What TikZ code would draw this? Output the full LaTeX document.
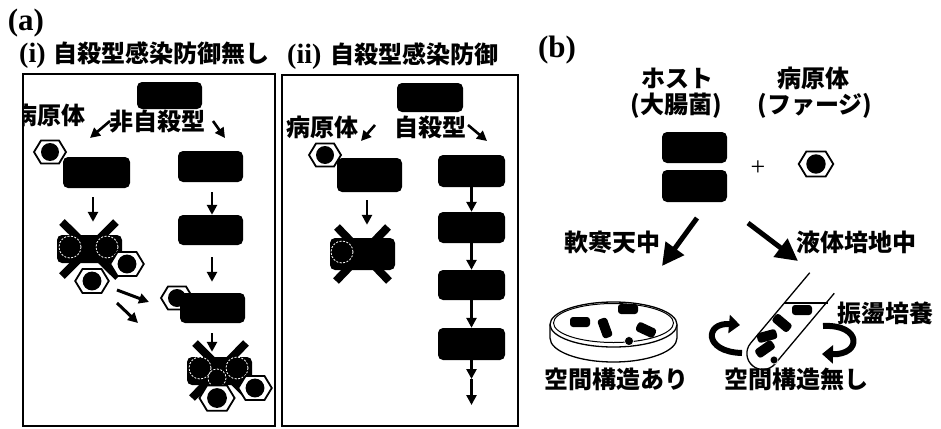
\documentclass[tikz,border=0pt]{standalone}
\usepackage{fontspec}
\setmainfont{Liberation Serif}
\newfontfamily\jp{Noto Sans CJK JP}
\usetikzlibrary{arrows.meta,calc}

\begin{document}
\begin{tikzpicture}[x=1pt,y=-1pt,
  cell/.style={fill=black, rounded corners=5pt, inner sep=0, minimum width=65pt, minimum height=30pt},
  jlabel/.style={font=\jp\bfseries\fontsize{24}{26}\selectfont, inner sep=0},
  tag/.style={font=\bfseries\fontsize{31}{31}\selectfont, inner sep=0},
  panel/.style={draw, line width=2pt},
  arr/.style={line width=2.6pt, -{Triangle[length=10pt,width=10pt]}},
  bigarr/.style={line width=5pt, -{Triangle[length=22pt,width=22pt]}},
  rot/.style={line width=6pt, -{Triangle[length=11pt,width=18pt]}},
  xbar/.style={line width=8pt},
  ghost/.style={draw=white, line width=0.8pt, dash pattern=on 2pt off 1.5pt},
  germ/.style={fill=black, rounded corners=3pt, inner sep=0, minimum width=20pt, minimum height=10pt},
  phage/.pic={
    \draw[line width=1.8pt, fill=white] (-16,0)--(-9,-11.5)--(9,-11.5)--(16,0)--(9,11.5)--(-9,11.5)--cycle;
    \fill (0,0) circle (9);
  }
]
\useasboundingbox (0,0) rectangle (941,428);

% ---------------- (a) ----------------
\node[tag] (la) at (26,23) {(a)};
\node[anchor=west, inner sep=0] (ti) at (19,55)
  {{\fontsize{28}{28}\selectfont\bfseries (i)}\hspace{8pt}{\jp\bfseries\fontsize{24}{26}\selectfont 自殺型感染防御無し}};
\node[anchor=west, inner sep=0] (tii) at (287,56)
  {{\fontsize{28}{28}\selectfont\bfseries (ii)}\hspace{9pt}{\jp\bfseries\fontsize{24}{26}\selectfont 自殺型感染防御}};

\draw[panel] (23,74) rectangle (275,426);
\draw[panel] (282,75) rectangle (518,426);

% panel (i): no suicidal defence
\node[cell, minimum height=27pt] (T1) at (169.5,95.5) {};
\begin{scope}
  \clip (23,74) rectangle (275,426);
  \node[jlabel] (pa1) at (49,115) {病原体};
\end{scope}
\node[jlabel] (ns) at (157,122) {非自殺型};
\coordinate (t1a) at (110,121); \coordinate (t1b) at (90,138);
\coordinate (t1c) at (213,121); \coordinate (t1d) at (225,138);
\draw[arr] (t1a) -- (t1b);
\draw[arr] (t1c) -- (t1d);

% left column: infected host dies and releases phages
\node[cell, minimum width=67pt, minimum height=31pt] (L1) at (96.5,172.5) {};
\pic at (50,152) {phage};
\node[cell, minimum height=28pt] (D1) at (89.5,249) {};
\draw[xbar] (62,222) -- (118,277);
\draw[xbar] (116,222) -- (62,276);
\draw[ghost] (70,247) circle (11);
\draw[ghost] (107,247) circle (11);
\pic[scale=1.05] at (127,264) {phage};
\pic[scale=1.05] at (92,281) {phage};
\draw[arr] ([xshift=-3.5pt,yshift=-9pt]L1.south) -- ([xshift=3.5pt,yshift=13pt]D1.north);
\coordinate (b1s) at (117,290); \coordinate (b1e) at (149,302);
\coordinate (b2s) at (117,303); \coordinate (b2e) at (138,323);
\draw[arr, line width=3pt] (b1s) -- (b1e);
\draw[arr, line width=3pt] (b2s) -- (b2e);

% right column: neighbours grow, then get infected too
\node[cell, minimum height=31pt] (R1) at (210.5,166.5) {};
\node[cell] (R2) at (210.5,230) {};
\pic at (177,298) {phage};
\node[cell] (R3) at (212.5,308) {};
\node[cell, minimum height=28pt] (D2) at (219.5,371) {};
\draw[xbar] (195,343) -- (250,398);
\draw[xbar] (246,343) -- (192,398);
\draw[ghost] (200,368) circle (11);
\draw[ghost] (237,368) circle (11);
\draw[ghost] (217,378) circle (9);
\pic[scale=1.05] at (255,388) {phage};
\pic[scale=1.1] at (217,398) {phage};
\draw[arr] ([xshift=1.5pt,yshift=-10pt]R1.south) -- ([xshift=1.5pt]R2.north);
\draw[arr] ([xshift=1.5pt,yshift=-12pt]R2.south) -- ([xshift=-0.5pt,yshift=11pt]R3.north);
\draw[arr] ([xshift=-0.5pt,yshift=-10pt]R3.south) -- ([xshift=-7.5pt,yshift=5pt]D2.north);

% panel (ii): suicidal defence
\node[cell, minimum width=66pt, minimum height=29pt] (T2) at (430,97.5) {};
\node[jlabel] (pa2) at (322,127) {病原体};
\node[jlabel] (su) at (430,127) {自殺型};
\coordinate (t2a) at (375,125); \coordinate (t2b) at (361,141);
\coordinate (t2c) at (468,125); \coordinate (t2d) at (487,141);
\draw[arr] (t2a) -- (t2b);
\draw[arr] (t2c) -- (t2d);

\node[cell, minimum height=34pt] (L2) at (369.5,175) {};
\pic at (325,155) {phage};
\node[cell, minimum height=32pt] (D3) at (362.5,254) {};
\draw[xbar] (337,227) -- (389,281);
\draw[xbar] (388,227) -- (336,281);
\draw[ghost] (342,252) circle (11);
\draw[arr] ([xshift=-2.5pt,yshift=-8pt]L2.south) -- ([xshift=4.5pt,yshift=13pt]D3.north);

\node[cell, minimum width=67pt, minimum height=32pt] (S1) at (471.5,171) {};
\node[cell, minimum width=67pt, minimum height=31pt] (S2) at (471.5,227.5) {};
\node[cell, minimum width=67pt, minimum height=30pt] (S3) at (471.5,285) {};
\node[cell, minimum width=67pt, minimum height=32pt] (S4) at (471.5,344) {};
\coordinate (e1) at (471.5,379);
\coordinate (e2) at (471.5,405);
\draw[arr] (S1) -- (S2);
\draw[arr] (S2) -- (S3);
\draw[arr] (S3) -- (S4);
\draw[arr] (S4) -- (e1);
\draw[arr] (e1) -- (e2);

% ---------------- (b) ----------------
\node[tag] (lb) at (557,50) {(b)};
\node[jlabel] (host) at (677,78) {ホスト};
\node[jlabel] (ecoli) at (676,106) {(大腸菌)};
\node[jlabel] (path) at (813,78) {病原体};
\node[jlabel] (phg) at (815,106) {(ファージ)};

\node[cell, minimum height=31pt] (H1) at (694.5,147.5) {};
\node[cell, minimum height=32pt] (H2) at (694.5,186) {};
\node[inner sep=0, font=\fontsize{26}{26}\selectfont] (plus) at (758,168) {+};
\pic[scale=1.08] at (816,164) {phage};

\coordinate (a1s) at (697,218); \coordinate (a1e) at (662,266);
\coordinate (a2s) at (748,223); \coordinate (a2e) at (798,261);
\draw[bigarr] (a1s) -- (a1e);
\draw[bigarr] (a2s) -- (a2e);
\node[jlabel] (soft) at (612,242) {軟寒天中};
\node[jlabel] (liq) at (856,242) {液体培地中};

% petri dish
\draw[line width=1.3pt, fill=white] (550,324.5) -- (550,338)
  arc[start angle=180, end angle=0, x radius=63.5, y radius=24] -- (677,324.5);
\draw[line width=1.3pt, fill=white] (613.5,324.5) ellipse [x radius=63.5, y radius=22.5];
\draw[line width=1pt] (613.5,323) ellipse [x radius=60, y radius=19.5];
\node[germ] (g1) at (580,322) {};
\node[germ] (g2) at (628,309) {};
\node[germ, rotate=-70] (g3) at (605,328) {};
\node[germ, rotate=-25] (g4) at (646,330) {};
\draw[fill=black, draw=white, line width=0.6pt] (629,341) circle (4.5);
\node[jlabel] (sp1) at (616,379) {空間構造あり};

% shaken test tube
\begin{scope}[shift={(822,283)}, rotate=-40]
  \draw[line width=1.3pt, fill=white] (-16,0) -- (-16,92)
    arc[start angle=180, end angle=0, radius=16] -- (16,0);
\end{scope}
\draw[line width=1.3pt] (784,303) -- (828,303);
\node[germ] (g5) at (802,310) {};
\node[germ, rotate=-40] (g6) at (782,323) {};
\node[germ, rotate=15] (g7) at (767,336) {};
\node[germ, rotate=35] (g8) at (765,349) {};
\draw[fill=black, draw=white, line width=0.6pt] (774,360) circle (4);
\draw[rot] (742,353) .. controls (703,352) and (705,322) .. (740,325);
\draw[rot] (823,326) .. controls (862,324) and (862,355) .. (822,354);
\node[jlabel] (shake) at (885,313) {振盪培養};
\node[jlabel] (sp2) at (796,379) {空間構造無し};

\end{tikzpicture}
\end{document}
